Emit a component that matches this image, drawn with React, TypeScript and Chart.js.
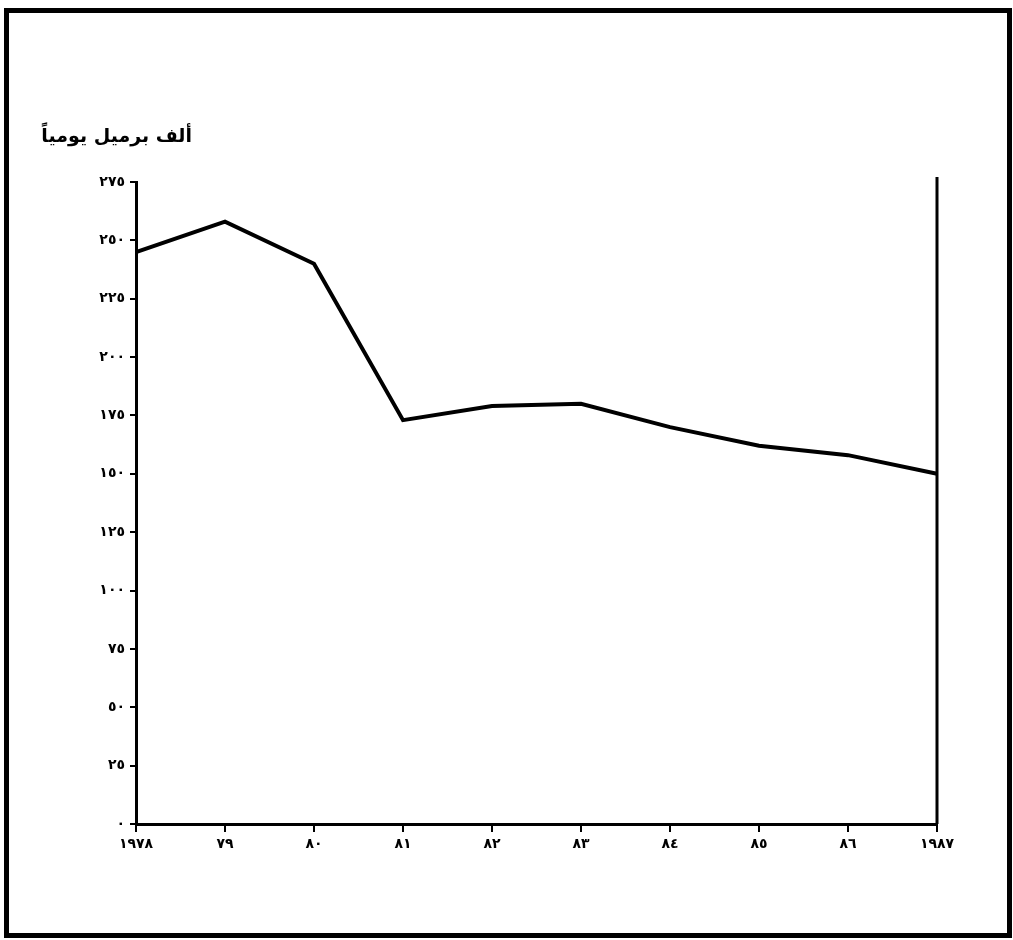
import React, { useEffect, useRef } from "react";
import { Chart, registerables } from "chart.js";

Chart.register(...registerables);

const categories = ["١٩٧٨", "٧٩", "٨٠", "٨١", "٨٢", "٨٣", "٨٤", "٨٥", "٨٦", "١٩٨٧"];
const productionValues = [245, 258, 240, 173, 179, 180, 170, 162, 158, 150];
const yTickLabels = ["٠", "٢٥", "٥٠", "٧٥", "١٠٠", "١٢٥", "١٥٠", "١٧٥", "٢٠٠", "٢٢٥", "٢٥٠", "٢٧٥"];
const unitTitle = "ألف برميل يومياً";

const rightLinePlugin = {
  id: "rightLine",
  afterDraw(chart: any) {
    const { ctx, chartArea } = chart;
    ctx.save();
    ctx.strokeStyle = "#000";
    ctx.lineWidth = 3;
    ctx.beginPath();
    ctx.moveTo(chartArea.right, chartArea.top - 5);
    ctx.lineTo(chartArea.right, chartArea.bottom);
    ctx.stroke();
    ctx.restore();
  },
};

export default function App() {
  const canvasRef = useRef<HTMLCanvasElement | null>(null);

  useEffect(() => {
    document.body.style.margin = "0";
    const canvas = canvasRef.current;
    if (!canvas) return;
    const font = { family: "DejaVu Sans", size: 14, weight: "bold" as const };
    const chart = new Chart(canvas, {
      type: "line",
      data: {
        labels: categories,
        datasets: [
          {
            data: productionValues,
            borderColor: "#000",
            borderWidth: 4,
            pointRadius: 0,
            tension: 0,
            fill: false,
          },
        ],
      },
      options: {
        responsive: false,
        animation: false,
        layout: { padding: { left: 0, right: 76, top: 182, bottom: 0 } },
        plugins: {
          legend: { display: false },
          tooltip: { enabled: false },
          title: { display: false },
        },
        scales: {
          x: {
            type: "category",
            offset: false,
            grid: { drawOnChartArea: false, drawTicks: true, tickLength: 8, color: "#000", lineWidth: 2 },
            border: { display: true, color: "#000", width: 3 },
            ticks: { color: "#000", font, padding: 4, maxRotation: 0, autoSkip: false },
            afterFit(scale: any) {
              scale.height = 116;
            },
          },
          y: {
            min: 0,
            max: 275,
            grid: { drawOnChartArea: false, drawTicks: true, tickLength: 6, color: "#000", lineWidth: 2 },
            border: { display: true, color: "#000", width: 3 },
            ticks: {
              stepSize: 25,
              color: "#000",
              font,
              padding: 5,
              callback: (_v: any, index: number) => yTickLabels[index],
            },
            afterFit(scale: any) {
              scale.width = 136;
            },
          },
        },
      },
      plugins: [rightLinePlugin],
    });
    return () => chart.destroy();
  }, []);

  return (
    <div style={{ position: "relative", width: 1013, height: 940, background: "#fff" }}>
      <div
        style={{
          position: "absolute",
          left: 4,
          top: 8,
          width: 1008,
          height: 930,
          boxSizing: "border-box",
          border: "5px solid #000",
        }}
      />
      <canvas ref={canvasRef} width={1013} height={940} style={{ position: "absolute", left: 0, top: 0 }} />
      <div
        dir="rtl"
        style={{
          position: "absolute",
          right: 1013 - 192,
          top: 124,
          fontFamily: "DejaVu Sans",
          fontWeight: "bold",
          fontSize: 19,
          color: "#000",
          whiteSpace: "nowrap",
        }}
      >
        {unitTitle}
      </div>
    </div>
  );
}
